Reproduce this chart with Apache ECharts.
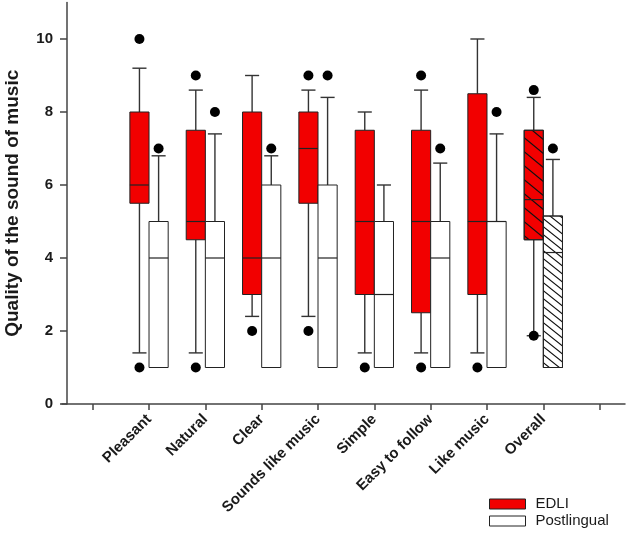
<!DOCTYPE html>
<html><head><meta charset="utf-8">
<script src="https://cdn.jsdelivr.net/npm/echarts@6/dist/echarts.min.js"></script>
<style>html,body{margin:0;padding:0;background:#fff}#c{width:630px;height:533px}</style>
</head><body><div id="c"></div>
<script>
// ---------------- data ----------------
const categories = ['Pleasant', 'Natural', 'Clear', 'Sounds like music', 'Simple', 'Easy to follow', 'Like music', 'Overall'];
const yTickValues = [0, 2, 4, 6, 8, 10];
// each row: [whiskerLow, q1, median, q3, whiskerHigh]
const edliBoxes = [
  [1.4, 5.5, 6.0, 8.0, 9.2],
  [1.4, 4.5, 5.0, 7.5, 8.6],
  [2.4, 3.0, 4.0, 8.0, 9.0],
  [2.4, 5.5, 7.0, 8.0, 8.6],
  [1.4, 3.0, 5.0, 7.5, 8.0],
  [1.4, 2.5, 5.0, 7.5, 8.6],
  [1.4, 3.0, 5.0, 8.5, 10.0],
  [1.87, 4.5, 5.6, 7.5, 8.4]
];
const postBoxes = [
  [1, 1, 4.0, 5.0, 6.8],
  [1, 1, 4.0, 5.0, 7.4],
  [1, 1, 4.0, 6.0, 6.8],
  [1, 1, 4.0, 6.0, 8.4],
  [1, 1, 3.0, 5.0, 6.0],
  [1, 1, 4.0, 5.0, 6.6],
  [1, 1, 5.0, 5.0, 7.4],
  [1, 1, 4.15, 5.15, 6.7]
];
// outliers: [categoryIndex, value]
const edliOutliers = [[0, 10], [0, 1], [1, 9], [1, 1], [2, 2], [3, 9], [3, 2], [4, 1], [5, 9], [5, 1], [6, 1], [7, 8.6], [7, 1.87]];
const postOutliers = [[0, 7], [1, 8], [2, 7], [3, 9], [5, 7], [6, 8], [7, 7]];
const hatchedCategories = ['Overall'];

// ---------------- style ----------------
const RED = '#f20000';
const BOX_HALF = 0.17;   // half box width in axis units
const CAP_HALF = 0.125;
const FONT = '"Liberation Sans", Arial, sans-serif';
const AXIS_COLOR = '#444';

function makeHatch(w, h, lw) {
  const c = document.createElement('canvas');
  c.width = w; c.height = h;
  const g = c.getContext('2d');
  g.strokeStyle = '#111'; g.lineWidth = lw;
  g.beginPath();
  [[0,0],[-w,0],[w,0],[0,-h],[0,h]].forEach(([dx,dy]) => { g.moveTo(dx, dy); g.lineTo(dx + w, dy + h); });
  g.stroke();
  return c;
}
const hatchRed = makeHatch(17, 14, 1.2);
const hatchWhite = makeHatch(10, 8, 1.1);

const pos = i => i + 1;
const tickPositions = [0].concat(categories.map((_, i) => pos(i)), [categories.length + 1]);

function boxData(rows) { return rows.map((r, i) => [pos(i)].concat(r)); }

function boxRenderer(side, fill, hatchImg) {
  return function (params, api) {
    const p = api.value(0);
    const cx = p + side * BOX_HALF;
    const low = api.value(1), q1 = api.value(2), med = api.value(3), q3 = api.value(4), high = api.value(5);
    const X = v => api.coord([v, 0])[0];
    const Y = v => api.coord([cx, v])[1];
    const xl = X(cx - BOX_HALF), xr = X(cx + BOX_HALF), xc = X(cx);
    const cl = X(cx - CAP_HALF), cr = X(cx + CAP_HALF);
    const ws = { stroke: '#333', lineWidth: 1.4 };
    const ch = [];
    if (high > q3) {
      ch.push({ type: 'line', shape: { x1: xc, y1: Y(q3), x2: xc, y2: Y(high) }, style: ws });
      ch.push({ type: 'line', shape: { x1: cl, y1: Y(high), x2: cr, y2: Y(high) }, style: ws });
    }
    if (low < q1) {
      ch.push({ type: 'line', shape: { x1: xc, y1: Y(q1), x2: xc, y2: Y(low) }, style: ws });
      ch.push({ type: 'line', shape: { x1: cl, y1: Y(low), x2: cr, y2: Y(low) }, style: ws });
    }
    const rectShape = { x: xl, y: Y(q3), width: xr - xl, height: Y(q1) - Y(q3) };
    ch.push({ type: 'rect', shape: rectShape, style: { fill: fill, stroke: '#222', lineWidth: 1 } });
    if (hatchedCategories.indexOf(categories[params.dataIndex]) >= 0) {
      ch.push({ type: 'rect', shape: rectShape, style: { fill: { image: hatchImg, repeat: 'repeat' }, stroke: '#222', lineWidth: 1 } });
    }
    ch.push({ type: 'line', shape: { x1: xl, y1: Y(med), x2: xr, y2: Y(med) }, style: { stroke: '#222', lineWidth: 1.2 } });
    return { type: 'group', children: ch };
  };
}

const chart = echarts.init(document.getElementById('c'), null, { renderer: 'canvas' });
chart.setOption({
  animation: false,
  backgroundColor: '#fff',
  grid: { left: 62, right: 5, top: 2.5, bottom: 129, containLabel: false, outerBoundsMode: 'none' },
  xAxis: {
    type: 'value', min: -0.545, max: 9.45,
    splitLine: { show: false },
    axisLine: { show: true, onZero: false, lineStyle: { color: AXIS_COLOR, width: 1.5 } },
    axisTick: { show: true, length: 6, customValues: tickPositions, lineStyle: { color: AXIS_COLOR, width: 1.5 } },
    axisLabel: {
      customValues: categories.map((_, i) => pos(i)),
      formatter: v => categories[Math.round(v) - 1] || '',
      rotate: 45, margin: 13, fontWeight: 'bold', fontSize: 15, color: '#1a1a1a', fontFamily: FONT
    }
  },
  yAxis: {
    type: 'value', min: 0, max: 11, offset: -5,
    splitLine: { show: false },
    axisLine: { show: true, onZero: false, lineStyle: { color: AXIS_COLOR, width: 1.5 } },
    axisTick: { show: true, length: 7, customValues: yTickValues, lineStyle: { color: AXIS_COLOR, width: 1.5 } },
    axisLabel: { customValues: yTickValues, margin: 14, fontWeight: 'bold', fontSize: 15, color: '#1a1a1a', fontFamily: FONT },
    name: 'Quality of the sound of music', nameLocation: 'middle', nameRotate: 90, nameGap: 45,
    nameMoveOverlap: false,
    nameTextStyle: { fontWeight: 'bold', fontSize: 19, color: '#1a1a1a', fontFamily: FONT }
  },
  legend: {
    orient: 'vertical', left: 489, top: 495.5, padding: 0, itemGap: 0,
    itemWidth: 36, itemHeight: 10,
    textStyle: { fontSize: 15, lineHeight: 17, color: '#1a1a1a', fontFamily: FONT, padding: [0, 0, 0, 5] },
    data: [
      { name: 'EDLI', icon: 'rect', itemStyle: { color: RED, borderColor: '#222', borderWidth: 1 } },
      { name: 'Postlingual', icon: 'rect', itemStyle: { color: '#fff', borderColor: '#222', borderWidth: 1 } }
    ]
  },
  series: [
    {
      name: 'EDLI', type: 'custom', renderItem: boxRenderer(-1, RED, hatchRed),
      itemStyle: { color: RED, borderColor: '#222' },
      encode: { x: 0, y: [1, 2, 3, 4, 5] }, data: boxData(edliBoxes), z: 2
    },
    {
      name: 'Postlingual', type: 'custom', renderItem: boxRenderer(1, '#fff', hatchWhite),
      itemStyle: { color: '#fff', borderColor: '#222' },
      encode: { x: 0, y: [1, 2, 3, 4, 5] }, data: boxData(postBoxes), z: 2
    },
    {
      name: 'EDLI outliers', type: 'scatter', symbol: 'circle', symbolSize: 10,
      itemStyle: { color: '#000', opacity: 1 }, z: 5,
      data: edliOutliers.map(([i, v]) => [pos(i) - BOX_HALF, v])
    },
    {
      name: 'Postlingual outliers', type: 'scatter', symbol: 'circle', symbolSize: 10,
      itemStyle: { color: '#000', opacity: 1 }, z: 5,
      data: postOutliers.map(([i, v]) => [pos(i) + BOX_HALF, v])
    }
  ]
});
</script>
</body></html>
